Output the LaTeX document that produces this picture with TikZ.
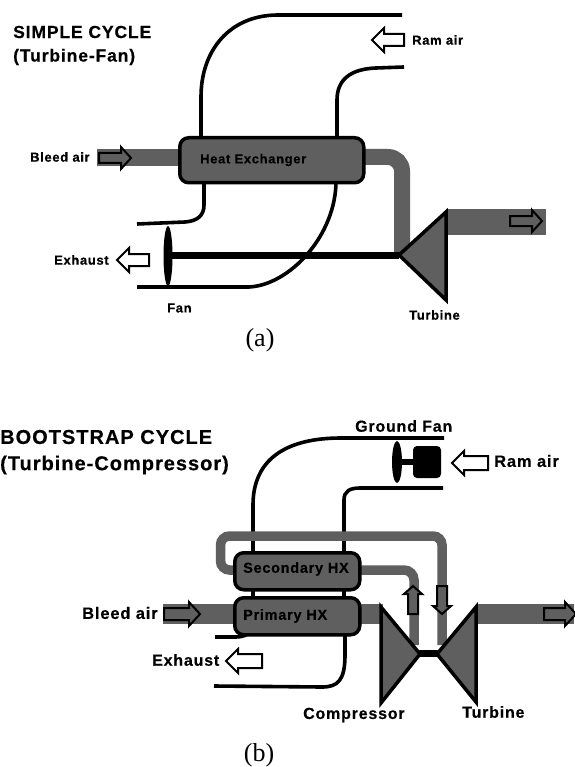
\documentclass[tikz,border=0pt]{standalone}
\usepackage{fontspec}
\setmainfont{Liberation Sans}
\newfontfamily\labfont[LetterSpace=5,BoldFeatures={FakeBold=0.4}]{Liberation Sans}
\newfontfamily\capfont{Liberation Serif}
\definecolor{pipe}{HTML}{5F5F5F}
\tikzset{
  duct/.style={draw=black,line width=3.6pt},
  band/.style={draw=pipe,line width=#1},
  hx/.style={draw=black,fill=pipe,line width=3.5pt,rounded corners=9pt,inner sep=0pt,anchor=north west},
  machine/.style={draw=black,fill=pipe,line width=3.5pt,line join=miter},
  lab/.style={font=\labfont\bfseries\fontsize{#1}{#1}\selectfont,inner sep=0pt,text=black,anchor=west},
  lab/.default=13,
  capt/.style={font=\capfont\fontsize{26}{26}\selectfont,inner sep=0pt}
}
% #1 centre, #2 rotation, #3 half length, #4 head length, #5 half head, #6 half body, #7 fill
\newcommand{\blockarrow}[7]{%
  \draw[draw=black,fill=#7,line width=2pt,shift={#1},rotate=#2]
    (-#3,-#6) -- (#3-#4,-#6) -- (#3-#4,-#5) -- (#3,0) -- (#3-#4,#5) -- (#3-#4,#6) -- (-#3,#6) -- cycle;}
\begin{document}
\begin{tikzpicture}[x=1pt,y=-1pt]
\useasboundingbox (0,0) rectangle (574,767);
\fill[white] (0,0) rectangle (574,767);
% ---------- (a)
\fill[pipe] (97,149) rectangle (180,166);
\fill[pipe] (446,209) -- (546,209) -- (546,235) -- (446,235) -- cycle;
\draw[band=16pt,rounded corners=14pt] (360,157) -- (402,157) -- (402,256);
\draw[duct] (402,15) -- (278,15) .. controls (230,15) and (201,50) .. (201,97) -- (201,137);
\draw[duct] (404,67) -- (376,68) .. controls (350,69) and (337,80) .. (337,100) -- (337,137);
\draw[duct] (137,224) -- (185,222) .. controls (198,221) and (204,215) .. (204,205) -- (204,180);
\draw[duct] (137,287) -- (249,287) .. controls (290,285) and (336,235) .. (336,181);
\node[hx,minimum width=184pt,minimum height=45pt] (hxa) at (178,136) {};
\coordinate (shaftL) at (170,255);
\node[draw=none,inner sep=0pt,minimum size=0pt] (turbA) at (399,255) {};
\draw[black,line width=7pt] (shaftL) -- (turbA);
\fill[black] (168,256) ellipse [x radius=4.5pt,y radius=30pt];
\draw[machine] (399,255) -- (446,212) -- (446,300) -- cycle;
\blockarrow{(115,158)}{0}{16}{10}{11}{5}{pipe}
\blockarrow{(526,221)}{0}{16}{10}{11}{5}{pipe}
\blockarrow{(388,40)}{180}{16}{12}{12}{6}{white}
\blockarrow{(133,260)}{180}{16}{12}{12}{6}{white}
\node[lab=17.5] (ta) at (13,32) {SIMPLE CYCLE};
\node[lab=17.5] (tb) at (13,57) {(Turbine-Fan)};
\node[lab] (l1) at (412,40) {Ram air};
\node[lab] (l2) at (30,157) {Bleed air};
\node[lab] (l3) at (200,160) {Heat Exchanger};
\node[lab] (l4) at (54,260) {Exhaust};
\node[lab] (l5) at (167,308) {Fan};
\node[lab] (l6) at (409,315) {Turbine};
\node[capt] (capa) at (260,340) {(a)};
% ---------- (b)
\fill[pipe] (163,604) rectangle (235,624);
\fill[pipe] (356,604) rectangle (383,624);
\fill[pipe] (476,604) rectangle (574,624);
\draw[duct] (444,438) -- (341,438) .. controls (285,438) and (253,460) .. (253,505) -- (253,596);
\draw[duct] (443,488) -- (360,488) .. controls (350,488) and (344,491) .. (344,500) -- (344,596);
\draw[duct] (215,637) -- (236,637) .. controls (243,637) and (248,635) .. (249,631);
\draw[duct] (214,686) -- (322,687) .. controls (338,687) and (345,680) .. (345,655) -- (345,632);
\draw[band=9.5pt,rounded corners=9pt] (235,570) -- (220.5,570) -- (220.5,536) -- (442,536) -- (442,645);
\draw[band=9.5pt,rounded corners=10pt] (356,570) -- (414,570) -- (414,645);
\node[hx,minimum width=125pt,minimum height=37pt] (shx) at (233,551) {};
\node[hx,minimum width=125pt,minimum height=37pt] (phx) at (233,596) {};
\draw[black,line width=7pt] (419,653.5) -- (438,653.5);
\draw[machine] (381,607) -- (381,703) -- (420,654) -- cycle;
\draw[machine] (476,607) -- (476,702) -- (437,654) -- cycle;
\fill[black] (397,462) ellipse [x radius=5pt,y radius=21pt];
\fill[black] (400,459) rectangle (415,465);
\fill[black,rounded corners=4pt] (413,446) rectangle (441,478);
\blockarrow{(182,614)}{0}{18}{11}{12}{6}{pipe}
\blockarrow{(560,614)}{0}{16}{11}{12}{6}{pipe}
\blockarrow{(470,463)}{180}{18}{12}{12}{7}{white}
\blockarrow{(244,661)}{180}{18}{12}{12}{7}{white}
\blockarrow{(413,600)}{90}{14}{8}{9}{5}{pipe}
\blockarrow{(442,600)}{-90}{14}{8}{9}{5}{pipe}
\node[lab=20] (tc) at (0,437) {BOOTSTRAP CYCLE};
\node[lab=20] (td) at (0,465) {(Turbine-Compressor)};
\node[lab=16] (m1) at (355,426) {Ground Fan};
\node[lab=16.5] (m2) at (494,461) {Ram air};
\node[lab=16.5] (m3) at (82,613) {Bleed air};
\node[lab=16] (m4) at (152,660) {Exhaust};
\node[lab=14.5] (m5) at (243,616) {Primary HX};
\node[lab=14.5] (m6) at (243,569) {Secondary HX};
\node[lab=16] (m7) at (303,715) {Compressor};
\node[lab=16] (m8) at (462,712) {Turbine};
\node[capt] (capb) at (259,755) {(b)};
\end{tikzpicture}
\end{document}
